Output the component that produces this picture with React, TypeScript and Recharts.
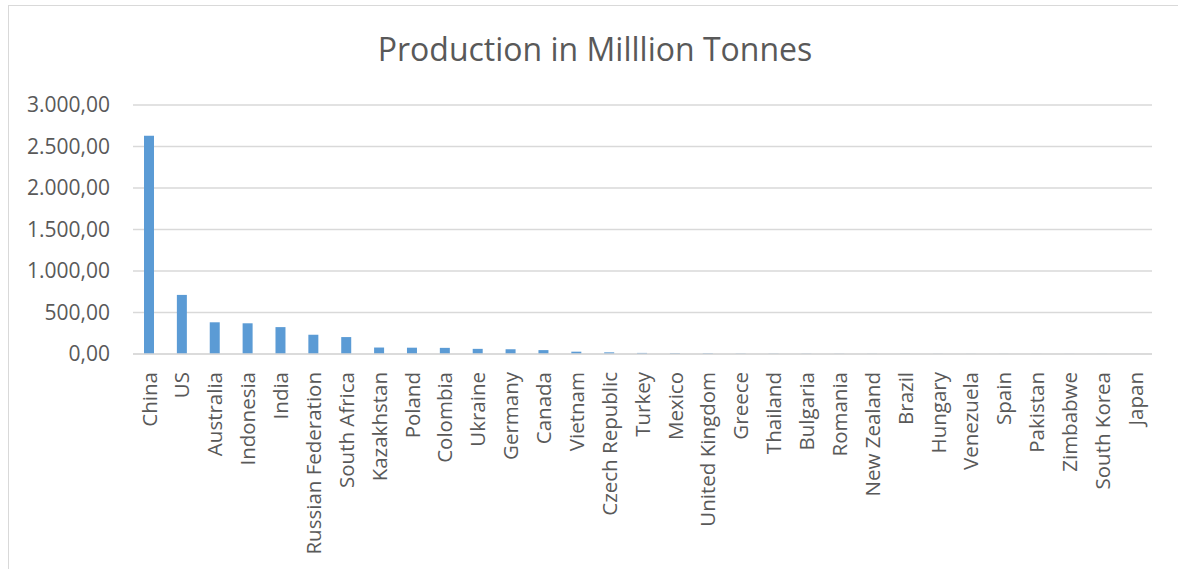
import { Bar, BarChart, CartesianGrid, XAxis, YAxis } from 'recharts';

const countries = [
  'China', 'US', 'Australia', 'Indonesia', 'India', 'Russian Federation', 'South Africa',
  'Kazakhstan', 'Poland', 'Colombia', 'Ukraine', 'Germany', 'Canada', 'Vietnam',
  'Czech Republic', 'Turkey', 'Mexico', 'United Kingdom', 'Greece', 'Thailand', 'Bulgaria',
  'Romania', 'New Zealand', 'Brazil', 'Hungary', 'Venezuela', 'Spain', 'Pakistan',
  'Zimbabwe', 'South Korea', 'Japan',
];

const production = [
  2629, 712, 382, 370, 324, 232, 204,
  78, 76, 74, 62, 57, 47, 28,
  20, 13, 9, 8, 4, 3.5, 3,
  2.5, 2.2, 2, 1.6, 1.4, 1.2, 1.1,
  1, 0.9, 0.6,
];

const yTicks = [0, 500, 1000, 1500, 2000, 2500, 3000];

const data = countries.map((name, i) => ({ name, value: production[i] }));

const FONT = '"Open Sans", sans-serif';
const TEXT = '#595959';
const GRID = '#d9d9d9';

// 3000 -> "3.000,00"
const formatTick = (v: number) => {
  const whole = Math.floor(v).toString().replace(/\B(?=(\d{3})+(?!\d))/g, '.');
  return `${whole},00`;
};

interface CountryTickProps {
  x?: number;
  y?: number;
  payload?: { value: string };
}

const CountryTick = ({ x = 0, y = 0, payload }: CountryTickProps) => (
  <text
    transform={`translate(${x},${y + 18}) rotate(-90)`}
    textAnchor="end"
    dy="0.35em"
    fill={TEXT}
    fontSize={20.5}
    fontFamily={FONT}
  >
    {payload?.value}
  </text>
);

export default function App() {
  return (
    <div style={{ position: 'absolute', left: 0, top: 0, width: 1178, height: 569, overflow: 'hidden', background: '#fff' }}>
      <div
        style={{
          position: 'absolute',
          left: 8,
          top: 5,
          width: 1190,
          height: 600,
          border: `1.5px solid ${GRID}`,
        }}
      />
      <div
        style={{
          position: 'absolute',
          left: 0,
          top: 33,
          width: 1190,
          textAlign: 'center',
          fontFamily: FONT,
          fontSize: 32,
          lineHeight: '32px',
          color: TEXT,
        }}
      >
        Production in Milllion Tonnes
      </div>
      <div style={{ position: 'absolute', left: 0, top: 0 }}>
        <BarChart
          width={1178}
          height={569}
          data={data}
          margin={{ top: 105, right: 26, left: 0, bottom: 0 }}
        >
          <CartesianGrid vertical={false} stroke={GRID} strokeWidth={1.5} />
          <XAxis
            dataKey="name"
            interval={0}
            height={215}
            axisLine={{ stroke: GRID, strokeWidth: 1.5 }}
            tickLine={false}
            tickSize={0}
            tickMargin={0}
            tick={<CountryTick />}
          />
          <YAxis
            domain={[0, 3000]}
            ticks={yTicks}
            width={133}
            axisLine={false}
            tickLine={false}
            tickSize={0}
            tickMargin={23}
            tickFormatter={formatTick}
            tick={{ fill: TEXT, fontSize: 21, fontFamily: FONT }}
          />
          <Bar dataKey="value" fill="#5b9bd5" barSize={10} isAnimationActive={false} />
        </BarChart>
      </div>
    </div>
  );
}
